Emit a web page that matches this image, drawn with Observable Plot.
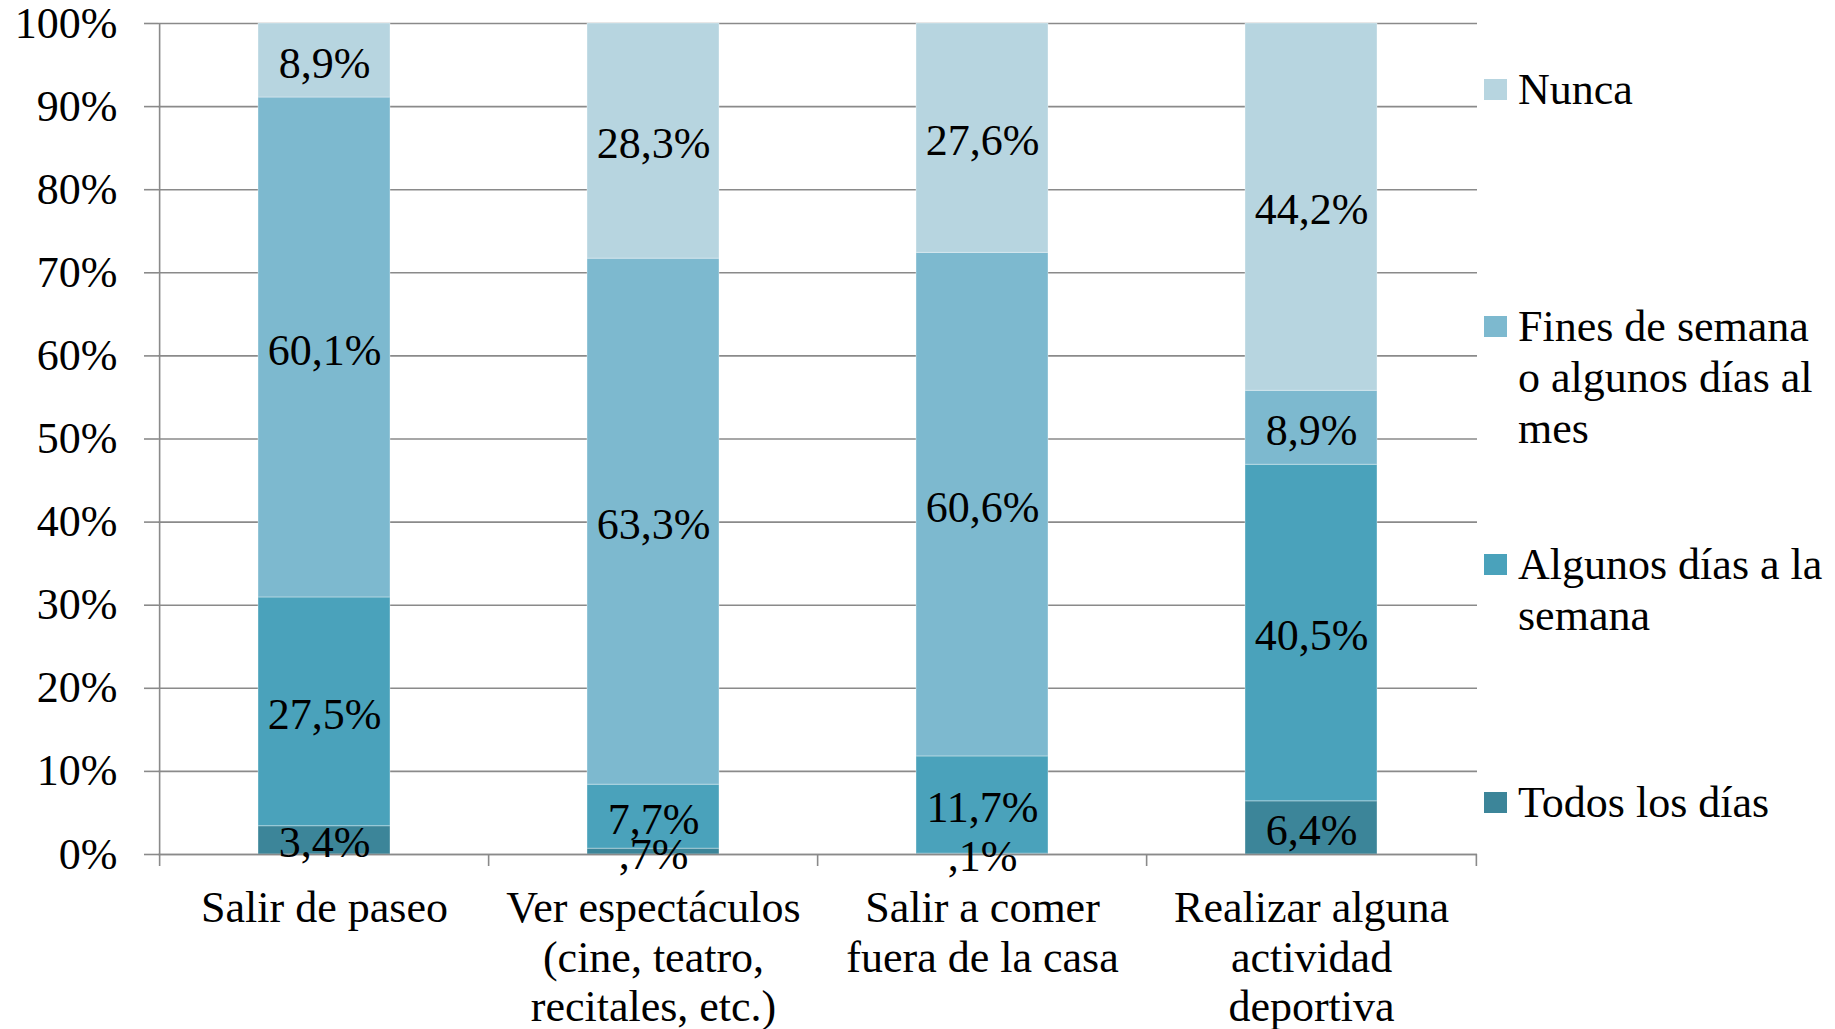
<!DOCTYPE html>
<html>
<head>
<meta charset="utf-8">
<script src="https://cdn.jsdelivr.net/npm/d3@7"></script>
<script src="https://cdn.jsdelivr.net/npm/@observablehq/plot@0.6"></script>
<style>
  html, body { margin: 0; padding: 0; background: #fff; }
  #wrap { position: relative; width: 1835px; height: 1029px; font-family: "Liberation Serif", serif; overflow: hidden; }
  #wrap svg { position: absolute; left: 0; top: 0; }
  .leg { position: absolute; left: 1484px; font-size: 44px; line-height: 51px; color: #000; white-space: pre-line; }
  .leg .sw { position: absolute; left: 0; top: 15px; width: 23px; height: 21px; }
  .leg .tx { position: absolute; left: 34px; top: 0; white-space: pre; }
</style>
</head>
<body>
<div id="wrap"></div>
<script>
// ---- data ----
const categories = [
  "Salir de paseo",
  "Ver espectáculos (cine, teatro, recitales, etc.)",
  "Salir a comer fuera de la casa",
  "Realizar alguna actividad deportiva"
];
const categoryLabels = [
  "Salir de paseo",
  "Ver espectáculos\n(cine, teatro,\nrecitales, etc.)",
  "Salir a comer\nfuera de la casa",
  "Realizar alguna\nactividad\ndeportiva"
];
const series = ["Todos los días", "Algunos días a la semana", "Fines de semana o algunos días al mes", "Nunca"];
const legendLabels = ["Todos los días", "Algunos días a la\nsemana", "Fines de semana\no algunos días al\nmes", "Nunca"];
const todos   = [3.4, 0.7, 0.1, 6.4];
const algunos = [27.5, 7.7, 11.7, 40.5];
const fines   = [60.1, 63.3, 60.6, 8.9];
const nunca   = [8.9, 28.3, 27.6, 44.2];
const colors  = ["#3c8599", "#4aa2bb", "#7db9cf", "#b7d5e0"];
const yTicks  = [0, 0.1, 0.2, 0.3, 0.4, 0.5, 0.6, 0.7, 0.8, 0.9, 1];

// ---- table ----
const valuesBySeries = [todos, algunos, fines, nunca];
const table = [];
series.forEach((s, si) => categories.forEach((c, ci) => table.push({cat: c, series: s, value: valuesBySeries[si][ci]})));

const fmt = v => {
  let s = d3.format(".1f")(v);
  if (v < 1) s = s.slice(1);
  return s.replace(".", ",") + "%";
};

const W = 1835, H = 1029, ML = 158, MR = 358, MT = 23, MB = 175;
const step = (W - ML - MR) / categories.length;
const gray = "#8a8a8a";

const chart = Plot.plot({
  width: W, height: H,
  marginLeft: ML, marginRight: MR, marginTop: MT, marginBottom: MB,
  style: {fontFamily: "'Liberation Serif', serif", fontSize: "44px", color: "#000", background: "transparent"},
  x: {domain: categories, paddingInner: 0.6, paddingOuter: 0.3, label: null},
  y: {domain: [0, 1], label: null},
  color: {domain: series, range: colors},
  marks: [
    Plot.gridY(yTicks, {stroke: gray, strokeOpacity: 1, strokeWidth: 1.6}),
    Plot.barY(table, Plot.stackY({offset: "normalize", x: "cat", y: "value", fill: "series", order: series, stroke: "#ffffff", strokeOpacity: 0.35, strokeWidth: 1})),
    Plot.ruleY([0], {stroke: gray, strokeWidth: 1.6}),
    Plot.ruleX([categories[0]], {dx: -step / 2, y1: 0, y2: 1, stroke: gray, strokeWidth: 1.6}),
    Plot.axisY({ticks: yTicks, tickSize: 14, tickPadding: 27, tickFormat: d => Math.round(d * 100) + "%", stroke: gray, strokeWidth: 1.6, fontSize: 44, fill: "#000"}),
    Plot.axisX({tickSize: 0, tickPadding: 32, tickFormat: d => categoryLabels[categories.indexOf(d)], lineHeight: 1.13, fontSize: 44, fill: "#000"}),
    Plot.axisX({tickSize: 12, tickFormat: () => "", dx: -step / 2, stroke: gray, strokeWidth: 1.6}),
    Plot.axisX([categories[categories.length - 1]], {tickSize: 12, tickFormat: () => "", dx: step / 2, stroke: gray, strokeWidth: 1.6}),
    Plot.text(table, Plot.stackY({offset: "normalize", x: "cat", y: "value", z: "series", order: series, text: d => fmt(d.value), fontSize: 44, fill: "#000", dy: 3}))
  ]
});

const wrap = document.getElementById("wrap");
wrap.appendChild(chart);

// ---- legend (HTML, right side) ----
const legendTop = 89, legendGap = 237.7;
[3, 2, 1, 0].forEach((si, k) => {
  const item = document.createElement("div");
  item.className = "leg";
  item.style.top = (legendTop + k * legendGap - 25.5) + "px";
  const sw = document.createElement("div");
  sw.className = "sw";
  sw.style.background = colors[si];
  const tx = document.createElement("div");
  tx.className = "tx";
  tx.textContent = legendLabels[si];
  item.appendChild(sw);
  item.appendChild(tx);
  wrap.appendChild(item);
});
</script>
</body>
</html>
